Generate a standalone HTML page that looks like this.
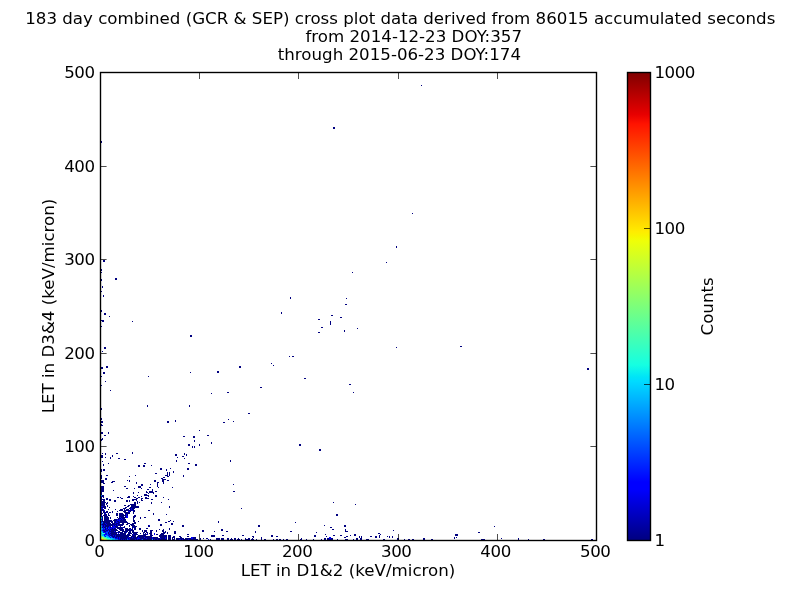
<!DOCTYPE html>
<html><head><meta charset="utf-8"><style>
html,body{margin:0;padding:0;background:#fff;width:800px;height:600px;overflow:hidden;-webkit-font-smoothing:antialiased}
svg{display:block;will-change:transform}
text{font-family:"DejaVu Sans","Liberation Sans",sans-serif;font-size:16.67px;fill:#000}
</style></head><body>
<svg width="800" height="600" viewBox="0 0 800 600" shape-rendering="crispEdges">
<defs><linearGradient id="jet" x1="0" y1="1" x2="0" y2="0">
<stop offset="0.000" stop-color="rgb(0,0,128)"/>
<stop offset="0.110" stop-color="rgb(0,0,255)"/>
<stop offset="0.125" stop-color="rgb(0,0,255)"/>
<stop offset="0.340" stop-color="rgb(0,219,255)"/>
<stop offset="0.350" stop-color="rgb(0,229,247)"/>
<stop offset="0.375" stop-color="rgb(21,255,226)"/>
<stop offset="0.640" stop-color="rgb(239,255,8)"/>
<stop offset="0.650" stop-color="rgb(247,246,0)"/>
<stop offset="0.660" stop-color="rgb(255,236,0)"/>
<stop offset="0.890" stop-color="rgb(255,19,0)"/>
<stop offset="0.910" stop-color="rgb(232,0,0)"/>
<stop offset="1.000" stop-color="rgb(128,0,0)"/>
</linearGradient></defs>
<rect x="0" y="0" width="800" height="600" fill="#fff"/>
<g id="title">
<text x="400.25" y="24" text-anchor="middle">183 day combined (GCR &amp; SEP) cross plot data derived from 86015 accumulated seconds</text>
<text x="522" y="42" text-anchor="end">from 2014-12-23 DOY:357</text>
<text x="521" y="60" text-anchor="end">through 2015-06-23 DOY:174</text>
</g>
<g id="data" shape-rendering="crispEdges"><path fill="#000080" d="M421 85h1v1h-1zM333 127h2v1h-2zM333 128h2v1h-2zM101 141h1v1h-1zM101 142h1v1h-1zM412 213h1v1h-1zM396 246h1v1h-1zM396 247h1v1h-1zM103 260h2v1h-2zM103 261h2v1h-2zM386 262h1v1h-1zM101 269h1v1h-1zM101 270h1v1h-1zM101 272h1v1h-1zM352 272h1v1h-1zM115 278h2v1h-2zM101 279h1v1h-1zM115 279h2v1h-2zM101 280h1v1h-1zM102 286h1v1h-1zM102 287h1v1h-1zM101 291h1v1h-1zM103 295h1v1h-1zM103 296h1v1h-1zM290 297h1v1h-1zM290 298h1v1h-1zM346 298h1v1h-1zM345 304h2v1h-2zM101 310h1v1h-1zM101 311h1v1h-1zM281 312h1v1h-1zM104 313h2v1h-2zM281 313h1v1h-1zM104 314h2v1h-2zM331 315h2v1h-2zM109 316h1v1h-1zM340 317h2v1h-2zM318 319h2v1h-2zM101 320h3v1h-3zM102 321h2v1h-2zM132 321h1v1h-1zM330 321h1v1h-1zM330 322h1v1h-1zM330 323h1v1h-1zM330 324h1v1h-1zM101 326h1v1h-1zM321 327h2v1h-2zM357 328h1v1h-1zM344 330h1v1h-1zM344 331h1v1h-1zM318 332h2v1h-2zM190 335h2v1h-2zM190 336h2v1h-2zM460 346h2v1h-2zM104 347h2v1h-2zM396 347h1v1h-1zM104 348h2v1h-2zM102 351h1v1h-1zM289 356h1v1h-1zM292 356h2v1h-2zM271 363h1v1h-1zM273 365h1v1h-1zM106 366h2v1h-2zM239 366h2v1h-2zM101 367h2v1h-2zM106 367h2v1h-2zM239 367h2v1h-2zM101 368h2v1h-2zM587 368h2v1h-2zM587 369h2v1h-2zM217 371h2v1h-2zM103 372h2v1h-2zM190 372h1v1h-1zM217 372h2v1h-2zM103 373h2v1h-2zM101 376h1v1h-1zM148 376h1v1h-1zM304 378h2v1h-2zM105 381h1v1h-1zM349 384h2v1h-2zM101 385h1v1h-1zM260 387h2v1h-2zM110 390h1v1h-1zM227 392h2v1h-2zM353 392h1v1h-1zM211 393h1v1h-1zM147 405h1v1h-1zM189 405h1v1h-1zM147 406h1v1h-1zM189 406h1v1h-1zM101 408h1v1h-1zM101 409h1v1h-1zM248 413h2v1h-2zM101 418h1v1h-1zM101 419h1v1h-1zM228 419h1v1h-1zM175 420h1v1h-1zM101 421h2v1h-2zM167 421h2v1h-2zM175 421h1v1h-1zM233 421h1v1h-1zM101 422h2v1h-2zM167 422h2v1h-2zM223 422h2v1h-2zM101 424h1v1h-1zM101 425h2v1h-2zM199 430h1v1h-1zM101 432h2v1h-2zM108 432h1v1h-1zM101 433h2v1h-2zM108 433h1v1h-1zM104 435h2v1h-2zM207 435h2v1h-2zM183 436h2v1h-2zM193 436h2v1h-2zM193 437h2v1h-2zM102 438h1v1h-1zM101 439h2v1h-2zM101 440h1v1h-1zM194 440h1v1h-1zM194 441h1v1h-1zM211 442h1v1h-1zM211 443h1v1h-1zM188 444h2v1h-2zM199 444h1v1h-1zM299 444h2v1h-2zM188 445h2v1h-2zM199 445h1v1h-1zM299 445h2v1h-2zM192 446h1v1h-1zM194 446h1v1h-1zM192 447h1v1h-1zM194 447h1v1h-1zM319 449h2v1h-2zM319 450h2v1h-2zM132 452h1v1h-1zM102 453h1v1h-1zM105 453h1v1h-1zM116 453h2v1h-2zM132 453h1v1h-1zM184 453h1v1h-1zM105 454h1v1h-1zM175 454h2v1h-2zM184 454h1v1h-1zM186 454h1v1h-1zM101 455h2v1h-2zM112 455h1v1h-1zM175 455h2v1h-2zM186 455h1v1h-1zM101 456h2v1h-2zM112 456h1v1h-1zM182 456h2v1h-2zM101 457h2v1h-2zM105 457h1v1h-1zM110 457h1v1h-1zM177 457h1v1h-1zM110 458h1v1h-1zM118 458h2v1h-2zM184 458h1v1h-1zM124 459h2v1h-2zM176 460h1v1h-1zM230 460h1v1h-1zM102 461h1v1h-1zM176 461h1v1h-1zM230 461h1v1h-1zM108 463h1v1h-1zM144 463h2v1h-2zM188 463h2v1h-2zM103 464h1v1h-1zM195 464h2v1h-2zM103 465h1v1h-1zM138 465h2v1h-2zM143 465h2v1h-2zM151 465h1v1h-1zM195 465h2v1h-2zM138 466h2v1h-2zM143 466h2v1h-2zM160 468h2v1h-2zM170 468h1v1h-1zM187 468h2v1h-2zM101 469h1v1h-1zM103 469h2v1h-2zM160 469h2v1h-2zM166 469h1v1h-1zM187 469h2v1h-2zM101 470h1v1h-1zM103 470h2v1h-2zM166 470h1v1h-1zM101 471h1v1h-1zM173 471h1v1h-1zM167 472h1v1h-1zM169 472h1v1h-1zM173 472h1v1h-1zM155 473h2v1h-2zM167 473h1v1h-1zM169 473h1v1h-1zM167 474h1v1h-1zM169 474h1v1h-1zM101 475h1v1h-1zM106 475h2v1h-2zM135 475h1v1h-1zM165 475h3v1h-3zM169 475h1v1h-1zM183 475h1v1h-1zM101 476h1v1h-1zM129 476h1v1h-1zM167 476h2v1h-2zM183 476h1v1h-1zM101 477h1v1h-1zM163 477h2v1h-2zM101 478h1v1h-1zM105 478h2v1h-2zM161 478h2v1h-2zM105 479h2v1h-2zM162 479h4v1h-4zM101 480h3v1h-3zM127 480h1v1h-1zM129 480h1v1h-1zM154 480h2v1h-2zM162 480h2v1h-2zM167 480h2v1h-2zM101 481h3v1h-3zM112 481h3v1h-3zM129 481h1v1h-1zM154 481h2v1h-2zM162 481h2v1h-2zM101 482h3v1h-3zM111 482h2v1h-2zM136 482h1v1h-1zM157 482h2v1h-2zM163 482h1v1h-1zM103 483h2v1h-2zM136 483h1v1h-1zM157 483h1v1h-1zM163 483h1v1h-1zM141 484h2v1h-2zM150 484h1v1h-1zM157 484h1v1h-1zM233 484h1v1h-1zM141 485h2v1h-2zM157 485h1v1h-1zM101 486h3v1h-3zM124 486h2v1h-2zM138 486h3v1h-3zM157 486h1v1h-1zM101 487h3v1h-3zM138 487h3v1h-3zM149 487h2v1h-2zM158 487h1v1h-1zM172 487h1v1h-1zM101 488h3v1h-3zM126 488h2v1h-2zM134 488h1v1h-1zM141 488h1v1h-1zM101 489h3v1h-3zM147 489h2v1h-2zM152 489h1v1h-1zM101 490h3v1h-3zM113 490h1v1h-1zM152 490h1v1h-1zM101 491h3v1h-3zM146 491h1v1h-1zM149 491h4v1h-4zM155 491h2v1h-2zM233 491h2v1h-2zM101 492h1v1h-1zM133 492h1v1h-1zM138 492h1v1h-1zM146 492h2v1h-2zM149 492h5v1h-5zM101 493h1v1h-1zM133 493h1v1h-1zM148 493h1v1h-1zM153 493h1v1h-1zM101 494h1v1h-1zM144 494h3v1h-3zM102 495h2v1h-2zM137 495h1v1h-1zM144 495h5v1h-5zM155 495h2v1h-2zM102 496h2v1h-2zM128 496h2v1h-2zM133 496h1v1h-1zM141 496h1v1h-1zM148 496h1v1h-1zM155 496h2v1h-2zM101 497h1v1h-1zM103 497h1v1h-1zM117 497h2v1h-2zM120 497h1v1h-1zM127 497h3v1h-3zM134 497h2v1h-2zM138 497h2v1h-2zM145 497h2v1h-2zM163 497h1v1h-1zM101 498h1v1h-1zM106 498h2v1h-2zM121 498h2v1h-2zM136 498h2v1h-2zM141 498h2v1h-2zM145 498h4v1h-4zM101 499h4v1h-4zM106 499h2v1h-2zM109 499h2v1h-2zM132 499h5v1h-5zM141 499h1v1h-1zM151 499h2v1h-2zM168 499h1v1h-1zM101 500h1v1h-1zM103 500h2v1h-2zM109 500h2v1h-2zM114 500h2v1h-2zM126 500h2v1h-2zM129 500h1v1h-1zM132 500h2v1h-2zM136 500h1v1h-1zM141 500h2v1h-2zM101 501h4v1h-4zM114 501h2v1h-2zM126 501h2v1h-2zM129 501h1v1h-1zM137 501h1v1h-1zM101 502h5v1h-5zM107 502h1v1h-1zM134 502h2v1h-2zM137 502h1v1h-1zM139 502h1v1h-1zM151 502h1v1h-1zM161 502h1v1h-1zM333 502h1v1h-1zM101 503h4v1h-4zM106 503h2v1h-2zM134 503h2v1h-2zM137 503h1v1h-1zM151 503h1v1h-1zM101 504h4v1h-4zM106 504h1v1h-1zM130 504h6v1h-6zM355 504h1v1h-1zM101 505h4v1h-4zM107 505h1v1h-1zM124 505h2v1h-2zM128 505h2v1h-2zM131 505h5v1h-5zM103 506h3v1h-3zM107 506h1v1h-1zM127 506h2v1h-2zM131 506h8v1h-8zM169 506h1v1h-1zM101 507h5v1h-5zM109 507h1v1h-1zM125 507h2v1h-2zM130 507h9v1h-9zM169 507h1v1h-1zM104 508h2v1h-2zM123 508h3v1h-3zM129 508h2v1h-2zM132 508h3v1h-3zM241 508h1v1h-1zM101 509h3v1h-3zM108 509h1v1h-1zM115 509h1v1h-1zM120 509h3v1h-3zM124 509h1v1h-1zM126 509h3v1h-3zM130 509h1v1h-1zM132 509h2v1h-2zM101 510h3v1h-3zM119 510h4v1h-4zM124 510h8v1h-8zM133 510h2v1h-2zM148 510h2v1h-2zM103 511h2v1h-2zM106 511h2v1h-2zM112 511h1v1h-1zM117 511h1v1h-1zM123 511h3v1h-3zM130 511h1v1h-1zM133 511h2v1h-2zM101 512h1v1h-1zM103 512h5v1h-5zM109 512h2v1h-2zM112 512h1v1h-1zM124 512h6v1h-6zM133 512h1v1h-1zM101 513h2v1h-2zM104 513h1v1h-1zM108 513h1v1h-1zM116 513h2v1h-2zM119 513h4v1h-4zM125 513h5v1h-5zM133 513h1v1h-1zM153 513h1v1h-1zM101 514h1v1h-1zM104 514h3v1h-3zM108 514h1v1h-1zM116 514h2v1h-2zM119 514h5v1h-5zM125 514h1v1h-1zM127 514h1v1h-1zM153 514h1v1h-1zM166 514h1v1h-1zM336 514h2v1h-2zM103 515h4v1h-4zM108 515h2v1h-2zM116 515h2v1h-2zM119 515h7v1h-7zM127 515h1v1h-1zM134 515h2v1h-2zM336 515h2v1h-2zM101 516h2v1h-2zM104 516h4v1h-4zM119 516h5v1h-5zM125 516h1v1h-1zM133 516h3v1h-3zM102 517h1v1h-1zM104 517h5v1h-5zM110 517h1v1h-1zM117 517h1v1h-1zM119 517h1v1h-1zM121 517h5v1h-5zM133 517h2v1h-2zM140 517h1v1h-1zM144 517h2v1h-2zM102 518h1v1h-1zM104 518h5v1h-5zM110 518h1v1h-1zM118 518h3v1h-3zM122 518h3v1h-3zM133 518h1v1h-1zM140 518h1v1h-1zM102 519h1v1h-1zM104 519h5v1h-5zM114 519h3v1h-3zM118 519h1v1h-1zM121 519h1v1h-1zM123 519h3v1h-3zM133 519h1v1h-1zM158 519h2v1h-2zM102 520h1v1h-1zM104 520h8v1h-8zM113 520h4v1h-4zM120 520h6v1h-6zM133 520h2v1h-2zM158 520h2v1h-2zM170 520h1v1h-1zM102 521h11v1h-11zM114 521h2v1h-2zM117 521h2v1h-2zM120 521h7v1h-7zM133 521h2v1h-2zM138 521h1v1h-1zM168 521h2v1h-2zM173 521h1v1h-1zM218 521h1v1h-1zM103 522h7v1h-7zM111 522h2v1h-2zM114 522h2v1h-2zM118 522h10v1h-10zM134 522h2v1h-2zM165 522h2v1h-2zM218 522h1v1h-1zM295 522h1v1h-1zM103 523h2v1h-2zM106 523h5v1h-5zM112 523h3v1h-3zM116 523h3v1h-3zM122 523h2v1h-2zM127 523h3v1h-3zM132 523h4v1h-4zM171 523h2v1h-2zM102 524h4v1h-4zM107 524h10v1h-10zM118 524h6v1h-6zM126 524h2v1h-2zM130 524h4v1h-4zM160 524h2v1h-2zM171 524h2v1h-2zM103 525h1v1h-1zM105 525h8v1h-8zM114 525h1v1h-1zM116 525h1v1h-1zM118 525h5v1h-5zM129 525h1v1h-1zM131 525h4v1h-4zM148 525h1v1h-1zM160 525h2v1h-2zM182 525h2v1h-2zM258 525h2v1h-2zM324 525h1v1h-1zM344 525h2v1h-2zM103 526h1v1h-1zM105 526h4v1h-4zM110 526h1v1h-1zM112 526h1v1h-1zM115 526h3v1h-3zM120 526h1v1h-1zM124 526h1v1h-1zM129 526h1v1h-1zM132 526h5v1h-5zM148 526h2v1h-2zM182 526h2v1h-2zM258 526h2v1h-2zM344 526h2v1h-2zM494 526h1v1h-1zM102 527h1v1h-1zM104 527h2v1h-2zM107 527h1v1h-1zM110 527h1v1h-1zM116 527h6v1h-6zM123 527h2v1h-2zM132 527h1v1h-1zM134 527h2v1h-2zM330 527h2v1h-2zM105 528h1v1h-1zM107 528h1v1h-1zM112 528h1v1h-1zM114 528h2v1h-2zM117 528h6v1h-6zM125 528h3v1h-3zM129 528h2v1h-2zM132 528h1v1h-1zM134 528h2v1h-2zM139 528h2v1h-2zM146 528h2v1h-2zM169 528h1v1h-1zM105 529h1v1h-1zM108 529h1v1h-1zM110 529h7v1h-7zM119 529h5v1h-5zM125 529h5v1h-5zM131 529h2v1h-2zM134 529h2v1h-2zM139 529h2v1h-2zM159 529h1v1h-1zM163 529h1v1h-1zM169 529h1v1h-1zM221 529h2v1h-2zM332 529h2v1h-2zM345 529h1v1h-1zM103 530h2v1h-2zM106 530h2v1h-2zM109 530h1v1h-1zM111 530h7v1h-7zM120 530h4v1h-4zM125 530h9v1h-9zM142 530h1v1h-1zM144 530h3v1h-3zM150 530h3v1h-3zM156 530h1v1h-1zM162 530h2v1h-2zM202 530h2v1h-2zM221 530h2v1h-2zM345 530h1v1h-1zM393 530h1v1h-1zM104 531h2v1h-2zM109 531h5v1h-5zM115 531h1v1h-1zM118 531h2v1h-2zM122 531h6v1h-6zM129 531h2v1h-2zM132 531h2v1h-2zM142 531h1v1h-1zM144 531h3v1h-3zM150 531h2v1h-2zM156 531h1v1h-1zM162 531h2v1h-2zM165 531h1v1h-1zM174 531h2v1h-2zM202 531h2v1h-2zM214 531h1v1h-1zM226 531h2v1h-2zM255 531h1v1h-1zM290 531h2v1h-2zM345 531h3v1h-3zM108 532h1v1h-1zM111 532h6v1h-6zM118 532h5v1h-5zM124 532h2v1h-2zM128 532h3v1h-3zM132 532h6v1h-6zM143 532h2v1h-2zM146 532h2v1h-2zM150 532h2v1h-2zM163 532h3v1h-3zM167 532h1v1h-1zM174 532h2v1h-2zM255 532h1v1h-1zM316 532h1v1h-1zM478 532h2v1h-2zM108 533h1v1h-1zM110 533h7v1h-7zM120 533h6v1h-6zM128 533h4v1h-4zM133 533h4v1h-4zM140 533h1v1h-1zM143 533h1v1h-1zM145 533h1v1h-1zM147 533h1v1h-1zM149 533h3v1h-3zM161 533h4v1h-4zM167 533h1v1h-1zM174 533h2v1h-2zM378 533h2v1h-2zM109 534h1v1h-1zM111 534h15v1h-15zM127 534h3v1h-3zM132 534h1v1h-1zM134 534h4v1h-4zM143 534h4v1h-4zM150 534h2v1h-2zM156 534h2v1h-2zM160 534h4v1h-4zM187 534h2v1h-2zM325 534h1v1h-1zM354 534h2v1h-2zM380 534h1v1h-1zM455 534h3v1h-3zM110 535h3v1h-3zM114 535h1v1h-1zM116 535h15v1h-15zM132 535h4v1h-4zM138 535h8v1h-8zM150 535h3v1h-3zM159 535h8v1h-8zM168 535h3v1h-3zM211 535h4v1h-4zM222 535h2v1h-2zM242 535h2v1h-2zM271 535h2v1h-2zM314 535h2v1h-2zM333 535h2v1h-2zM340 535h2v1h-2zM350 535h1v1h-1zM354 535h2v1h-2zM379 535h1v1h-1zM455 535h3v1h-3zM112 536h3v1h-3zM116 536h13v1h-13zM131 536h5v1h-5zM137 536h15v1h-15zM159 536h8v1h-8zM168 536h3v1h-3zM173 536h2v1h-2zM179 536h2v1h-2zM187 536h2v1h-2zM211 536h4v1h-4zM252 536h2v1h-2zM271 536h2v1h-2zM276 536h2v1h-2zM314 536h2v1h-2zM326 536h1v1h-1zM346 536h2v1h-2zM359 536h1v1h-1zM361 536h1v1h-1zM370 536h2v1h-2zM375 536h2v1h-2zM379 536h1v1h-1zM387 536h1v1h-1zM389 536h1v1h-1zM392 536h1v1h-1zM113 537h1v1h-1zM115 537h2v1h-2zM118 537h1v1h-1zM120 537h8v1h-8zM129 537h3v1h-3zM133 537h5v1h-5zM139 537h5v1h-5zM145 537h7v1h-7zM153 537h5v1h-5zM160 537h5v1h-5zM166 537h1v1h-1zM168 537h3v1h-3zM172 537h3v1h-3zM180 537h2v1h-2zM193 537h3v1h-3zM253 537h1v1h-1zM261 537h1v1h-1zM344 537h2v1h-2zM359 537h1v1h-1zM361 537h1v1h-1zM375 537h2v1h-2zM379 537h1v1h-1zM389 537h1v1h-1zM392 537h1v1h-1zM454 537h1v1h-1zM456 537h1v1h-1zM118 538h1v1h-1zM120 538h7v1h-7zM128 538h1v1h-1zM130 538h7v1h-7zM140 538h6v1h-6zM147 538h5v1h-5zM153 538h7v1h-7zM161 538h4v1h-4zM166 538h1v1h-1zM168 538h3v1h-3zM172 538h1v1h-1zM174 538h1v1h-1zM176 538h8v1h-8zM185 538h6v1h-6zM193 538h3v1h-3zM200 538h1v1h-1zM203 538h1v1h-1zM206 538h2v1h-2zM216 538h4v1h-4zM221 538h3v1h-3zM227 538h2v1h-2zM231 538h1v1h-1zM234 538h2v1h-2zM238 538h1v1h-1zM245 538h1v1h-1zM248 538h2v1h-2zM252 538h1v1h-1zM261 538h1v1h-1zM301 538h1v1h-1zM324 538h2v1h-2zM327 538h2v1h-2zM331 538h2v1h-2zM356 538h2v1h-2zM360 538h2v1h-2zM397 538h2v1h-2zM423 538h2v1h-2zM454 538h1v1h-1zM501 538h1v1h-1zM518 538h1v1h-1zM120 539h1v1h-1zM122 539h1v1h-1zM124 539h1v1h-1zM126 539h1v1h-1zM130 539h5v1h-5zM136 539h1v1h-1zM138 539h3v1h-3zM143 539h9v1h-9zM153 539h1v1h-1zM155 539h2v1h-2zM158 539h9v1h-9zM168 539h3v1h-3zM172 539h3v1h-3zM176 539h3v1h-3zM181 539h1v1h-1zM183 539h5v1h-5zM189 539h9v1h-9zM200 539h1v1h-1zM210 539h1v1h-1zM216 539h4v1h-4zM221 539h3v1h-3zM227 539h2v1h-2zM230 539h3v1h-3zM234 539h2v1h-2zM237 539h3v1h-3zM241 539h1v1h-1zM245 539h5v1h-5zM251 539h3v1h-3zM256 539h1v1h-1zM261 539h1v1h-1zM264 539h2v1h-2zM273 539h1v1h-1zM276 539h2v1h-2zM279 539h2v1h-2zM283 539h1v1h-1zM286 539h2v1h-2zM300 539h2v1h-2zM306 539h1v1h-1zM313 539h1v1h-1zM321 539h1v1h-1zM324 539h2v1h-2zM327 539h6v1h-6zM337 539h1v1h-1zM345 539h3v1h-3zM353 539h1v1h-1zM356 539h2v1h-2zM360 539h2v1h-2zM366 539h3v1h-3zM383 539h2v1h-2zM397 539h2v1h-2zM404 539h1v1h-1zM408 539h2v1h-2zM412 539h2v1h-2zM423 539h2v1h-2zM431 539h2v1h-2zM481 539h4v1h-4zM518 539h1v1h-1zM528 539h1v1h-1zM543 539h2v1h-2zM591 539h2v1h-2z"/>
<path fill="#00c0ff" d="M101 495h1v1h-1zM101 517h1v1h-1zM101 518h1v1h-1zM101 520h1v1h-1zM101 526h1v1h-1zM101 528h1v1h-1zM101 529h1v1h-1zM101 531h1v1h-1zM102 532h1v1h-1zM101 533h1v1h-1zM102 534h1v1h-1zM102 535h2v1h-2zM106 536h2v1h-2zM107 537h2v1h-2zM110 538h3v1h-3zM112 539h3v1h-3zM152 539h1v1h-1z"/>
<path fill="#0000f4" d="M101 496h1v1h-1zM101 506h2v1h-2zM101 508h2v1h-2zM131 508h1v1h-1zM131 509h1v1h-1zM104 510h1v1h-1zM132 510h1v1h-1zM101 511h1v1h-1zM128 511h2v1h-2zM105 513h1v1h-1zM126 514h1v1h-1zM101 515h1v1h-1zM126 515h1v1h-1zM126 516h2v1h-2zM120 517h1v1h-1zM126 517h2v1h-2zM121 518h1v1h-1zM101 519h1v1h-1zM117 519h1v1h-1zM119 519h2v1h-2zM122 519h1v1h-1zM117 520h3v1h-3zM101 521h1v1h-1zM116 521h1v1h-1zM119 521h1v1h-1zM116 522h2v1h-2zM105 523h1v1h-1zM115 523h1v1h-1zM119 523h1v1h-1zM101 524h1v1h-1zM106 524h1v1h-1zM117 524h1v1h-1zM102 525h1v1h-1zM104 525h1v1h-1zM113 525h1v1h-1zM115 525h1v1h-1zM117 525h1v1h-1zM149 525h1v1h-1zM102 526h1v1h-1zM104 526h1v1h-1zM109 526h1v1h-1zM113 526h2v1h-2zM103 527h1v1h-1zM108 527h2v1h-2zM111 527h5v1h-5zM122 527h1v1h-1zM133 527h1v1h-1zM103 528h1v1h-1zM106 528h1v1h-1zM109 528h3v1h-3zM113 528h1v1h-1zM103 529h2v1h-2zM106 529h2v1h-2zM109 529h1v1h-1zM130 529h1v1h-1zM102 530h1v1h-1zM105 530h1v1h-1zM108 530h1v1h-1zM110 530h1v1h-1zM103 531h1v1h-1zM106 531h2v1h-2zM114 531h1v1h-1zM103 532h3v1h-3zM109 532h2v1h-2zM117 532h1v1h-1zM126 532h1v1h-1zM105 533h2v1h-2zM109 533h1v1h-1zM118 533h1v1h-1zM154 533h1v1h-1zM104 534h3v1h-3zM108 534h1v1h-1zM110 534h1v1h-1zM133 534h1v1h-1zM147 534h1v1h-1zM154 534h1v1h-1zM104 535h1v1h-1zM108 535h2v1h-2zM113 535h1v1h-1zM115 535h1v1h-1zM105 536h1v1h-1zM109 536h1v1h-1zM111 536h1v1h-1zM115 536h1v1h-1zM110 537h1v1h-1zM112 537h1v1h-1zM114 537h1v1h-1zM117 537h1v1h-1zM119 537h1v1h-1zM128 537h1v1h-1zM132 537h1v1h-1zM138 537h1v1h-1zM144 537h1v1h-1zM152 537h1v1h-1zM165 537h1v1h-1zM191 537h2v1h-2zM329 537h2v1h-2zM115 538h3v1h-3zM119 538h1v1h-1zM127 538h1v1h-1zM129 538h1v1h-1zM137 538h3v1h-3zM146 538h1v1h-1zM152 538h1v1h-1zM160 538h1v1h-1zM165 538h1v1h-1zM191 538h2v1h-2zM329 538h2v1h-2zM118 539h2v1h-2zM121 539h1v1h-1zM123 539h1v1h-1zM125 539h1v1h-1zM128 539h2v1h-2zM135 539h1v1h-1zM137 539h1v1h-1zM141 539h1v1h-1zM154 539h1v1h-1zM157 539h1v1h-1zM179 539h2v1h-2zM182 539h1v1h-1zM188 539h1v1h-1zM208 539h1v1h-1z"/>
<path fill="#0023ff" d="M101 522h1v1h-1zM102 523h1v1h-1z"/>
<path fill="#0080ff" d="M102 522h1v1h-1zM101 523h1v1h-1zM101 525h1v1h-1zM101 527h1v1h-1zM102 528h1v1h-1zM101 530h1v1h-1zM102 531h1v1h-1zM103 534h1v1h-1zM105 535h2v1h-2zM104 536h1v1h-1zM108 536h1v1h-1zM110 536h1v1h-1zM109 537h1v1h-1zM111 537h1v1h-1zM113 538h2v1h-2zM115 539h3v1h-3zM127 539h1v1h-1zM142 539h1v1h-1z"/>
<path fill="#004dff" d="M106 527h1v1h-1zM104 528h1v1h-1zM108 528h1v1h-1zM102 529h1v1h-1zM108 531h1v1h-1zM106 532h2v1h-2zM107 533h1v1h-1zM107 534h1v1h-1zM107 535h1v1h-1z"/>
<path fill="#1effe0" d="M101 532h1v1h-1zM102 533h2v1h-2zM101 534h1v1h-1zM101 535h1v1h-1zM103 536h1v1h-1zM105 537h2v1h-2zM107 538h3v1h-3zM110 539h2v1h-2z"/>
<path fill="#40ffb8" d="M104 533h1v1h-1zM102 536h1v1h-1zM104 537h1v1h-1zM106 538h1v1h-1zM108 539h2v1h-2z"/>
<path fill="#90ff68" d="M101 536h1v1h-1zM101 537h1v1h-1zM103 537h1v1h-1zM103 538h3v1h-3zM106 539h2v1h-2z"/>
<path fill="#c0ff38" d="M102 537h1v1h-1zM101 538h2v1h-2zM104 539h2v1h-2z"/>
<path fill="#ff5000" d="M101 539h1v1h-1z"/>
<path fill="#ffc000" d="M102 539h2v1h-2z"/></g>
<g id="axes" stroke="#000" stroke-width="1.39" fill="none" shape-rendering="geometricPrecision">
<rect x="100.5" y="72.5" width="496" height="468"/>
</g>
<g id="ticks" stroke="#000" stroke-width="0.7" shape-rendering="auto"><path d="M199.5 73V79M199.5 540V534M298.5 73V79M298.5 540V534M398.5 73V79M398.5 540V534M497.5 73V79M497.5 540V534M101 446.5H106.6M596 446.5H590.4M101 353.5H106.6M596 353.5H590.4M101 259.5H106.6M596 259.5H590.4M101 166.5H106.6M596 166.5H590.4"/></g>
<g id="xtl" text-anchor="middle" letter-spacing="-0.45">
<text x="99.3" y="557">0</text>
<text x="198.5" y="557">100</text>
<text x="297.2" y="557">200</text>
<text x="396.3" y="557">300</text>
<text x="495.6" y="557">400</text>
<text x="595.3" y="557">500</text>
</g>
<g id="ytl" text-anchor="end" letter-spacing="-0.45">
<text x="94.6" y="546">0</text>
<text x="94.6" y="452.4">100</text>
<text x="94.6" y="358.8">200</text>
<text x="94.6" y="265.2">300</text>
<text x="94.6" y="171.6">400</text>
<text x="94.6" y="78">500</text>
</g>
<text x="348" y="576" text-anchor="middle">LET in D1&amp;2 (keV/micron)</text>
<text transform="translate(54 306) rotate(-90)" text-anchor="middle">LET in D3&amp;4 (keV/micron)</text>
<rect x="627.5" y="72.5" width="23" height="468" fill="url(#jet)" stroke="#000" stroke-width="1.39" shape-rendering="geometricPrecision"/>
<path d="M650 384.5H644M650 228.5H644M650 72.5H644" stroke="#000" stroke-width="0.7"/>
<g id="ctl" text-anchor="start" letter-spacing="-0.45">
<text x="654.4" y="546">1</text>
<text x="654.4" y="390">10</text>
<text x="654.4" y="234">100</text>
<text x="654.4" y="78">1000</text>
</g>
<text transform="translate(713 306.4) rotate(-90)" text-anchor="middle">Counts</text>
</svg>
</body></html>
